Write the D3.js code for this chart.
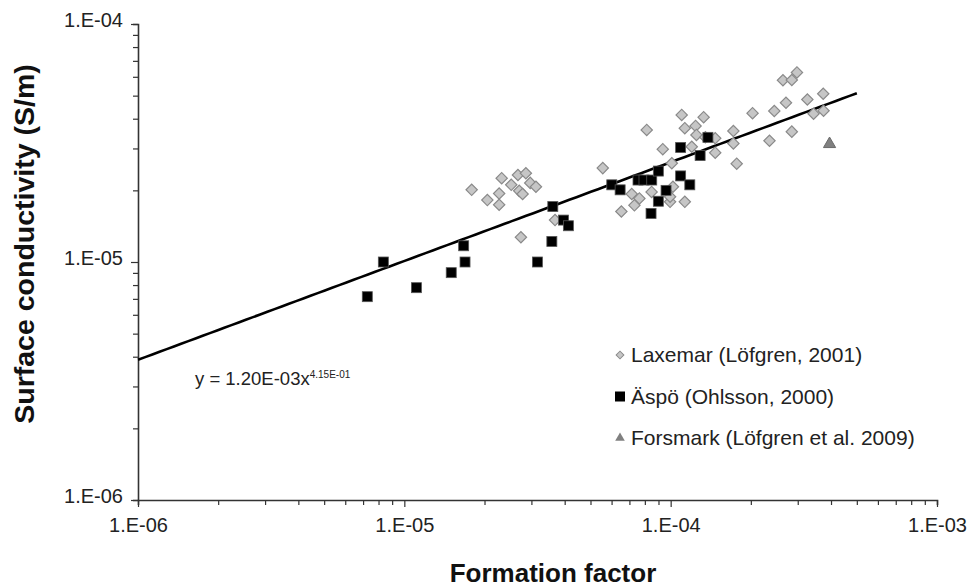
<!DOCTYPE html>
<html>
<head>
<meta charset="utf-8">
<script src="https://cdn.jsdelivr.net/npm/d3@7"></script>
<style>
  body { margin: 0; background: #fff; }
  svg text { font-family: 'Liberation Sans', Arial, sans-serif; }
  .axis path, .axis line { stroke: #333; }
  .axis text { font-size: 20px; fill: #222; }
</style>
</head>
<body>
<div id="chart"></div>
<script>
// Laxemar (Löfgren, 2001): [formation factor, surface conductivity S/m]
const laxemar = [
  [1.79e-5, 2.01e-5], [2.05e-5, 1.82e-5], [2.27e-5, 1.94e-5], [2.27e-5, 1.74e-5],
  [2.32e-5, 2.25e-5], [2.52e-5, 2.11e-5], [2.67e-5, 2.32e-5], [2.86e-5, 2.36e-5],
  [2.70e-5, 1.99e-5], [2.78e-5, 1.93e-5], [2.97e-5, 2.15e-5], [3.12e-5, 2.07e-5],
  [2.74e-5, 1.27e-5], [3.68e-5, 1.50e-5], [5.56e-5, 2.48e-5], [8.13e-5, 3.59e-5],
  [1.10e-4, 4.15e-5], [1.33e-4, 4.06e-5], [1.13e-4, 3.65e-5], [1.24e-4, 3.73e-5],
  [1.25e-4, 3.42e-5], [1.35e-4, 3.34e-5], [1.47e-4, 3.31e-5], [1.72e-4, 3.55e-5],
  [1.72e-4, 3.15e-5], [9.34e-5, 2.98e-5], [1.20e-4, 3.05e-5], [1.47e-4, 2.88e-5],
  [1.01e-4, 2.60e-5], [1.77e-4, 2.59e-5], [2.03e-4, 4.22e-5], [2.45e-4, 4.31e-5],
  [2.71e-4, 4.67e-5], [2.35e-4, 3.23e-5], [2.85e-4, 3.53e-5], [2.64e-4, 5.80e-5],
  [2.85e-4, 5.82e-5], [2.98e-4, 6.26e-5], [3.26e-4, 4.82e-5], [3.74e-4, 5.09e-5],
  [3.44e-4, 4.20e-5], [3.75e-4, 4.32e-5], [7.14e-5, 1.93e-5], [7.63e-5, 1.85e-5],
  [7.31e-5, 1.73e-5], [6.53e-5, 1.63e-5], [8.48e-5, 1.97e-5], [9.95e-5, 1.79e-5],
  [1.02e-4, 2.07e-5], [1.13e-4, 1.79e-5], [9.95e-5, 1.88e-5]
]

// Äspö (Ohlsson, 2000)
const aspo = [
  [7.26e-6, 7.15e-6], [8.34e-6, 1.00e-5], [1.11e-5, 7.80e-6], [1.50e-5, 9.02e-6],
  [1.67e-5, 1.17e-5], [1.69e-5, 1.00e-5], [3.16e-5, 1.00e-5], [3.58e-5, 1.22e-5],
  [3.61e-5, 1.71e-5], [3.96e-5, 1.50e-5], [4.13e-5, 1.42e-5], [6.01e-5, 2.11e-5],
  [6.46e-5, 2.01e-5], [7.54e-5, 2.21e-5], [7.94e-5, 2.21e-5], [8.49e-5, 2.21e-5],
  [8.99e-5, 2.41e-5], [1.09e-4, 3.03e-5], [1.29e-4, 2.80e-5], [1.38e-4, 3.34e-5],
  [1.09e-4, 2.30e-5], [1.18e-4, 2.11e-5], [9.61e-5, 2.00e-5], [8.99e-5, 1.80e-5],
  [8.44e-5, 1.60e-5]
]

// Forsmark (Löfgren et al. 2009)
const forsmark = [[3.95e-4, 3.13e-5]]

// power-law fit y = a * x^b and the x span it is drawn over
const fitA = 1.20e-3
const fitB = 0.415
const fitRange = [1e-6, 5e-4]

const xDecades = [1e-6, 1e-5, 1e-4, 1e-3]
const yDecades = [1e-6, 1e-5, 1e-4]

const legendLabels = [
  'Laxemar (Löfgren, 2001)',
  'Äspö (Ohlsson, 2000)',
  'Forsmark (Löfgren et al. 2009)'
]

var margin = { top: 24, left: 138, right: 43, bottom: 88 }
var width = 980 - margin.left - margin.right
var height = 588 - margin.top - margin.bottom

var svg = d3
  .select('#chart')
  .append('svg')
  .attr('width', width + margin.left + margin.right)
  .attr('height', height + margin.top + margin.bottom)
  .append('g')
  .attr('transform', `translate(${margin.left},${margin.top})`)

let xPositionScale = d3.scaleLog().domain([1e-6, 1e-3]).range([0, width])
let yPositionScale = d3.scaleLog().domain([1e-6, 1e-4]).range([height, 0])

// minor ticks 1..9 in each decade
function decadeTicks(decades) {
  let ticks = []
  decades.forEach((d, i) => {
    if (i === decades.length - 1) {
      ticks.push(d)
      return
    }
    for (let k = 1; k < 10; k++) ticks.push(d * k)
  })
  return ticks
}

function isMajor(v) {
  let l = Math.log10(v)
  return Math.abs(l - Math.round(l)) < 1e-9
}

function fmt(v) {
  let e = Math.round(Math.log10(v))
  return '1.E-' + String(-e).padStart(2, '0')
}

/* Axes */
var xAxis = d3
  .axisBottom(xPositionScale)
  .tickValues(decadeTicks(xDecades))
  .tickSizeOuter(0)
  .tickSize(5)
  .tickPadding(13)
  .tickFormat(d => (isMajor(d) ? fmt(d) : ''))

svg
  .append('g')
  .attr('class', 'axis x-axis')
  .attr('transform', 'translate(0,' + height + ')')
  .call(xAxis)
  .call(g => g.select('.domain').attr('stroke-width', 1.6))
  .call(g => g.selectAll('.tick line').attr('y2', d => (isMajor(d) ? 7 : 5)).attr('stroke-width', 1.2))

var yAxis = d3
  .axisLeft(yPositionScale)
  .tickValues(decadeTicks(yDecades))
  .tickSizeOuter(0)
  .tickSize(5)
  .tickPadding(10)
  .tickFormat(d => (isMajor(d) ? fmt(d) : ''))

svg
  .append('g')
  .attr('class', 'axis y-axis')
  .call(yAxis)
  .call(g => g.select('.domain').attr('stroke-width', 1.6))
  .call(g => g.selectAll('.tick line').attr('x2', d => (isMajor(d) ? -7 : -5)).attr('stroke-width', 1.2))
  .call(g => g.selectAll('.tick text').attr('dy', '0.1em'))

/* Fit line */
let fitPts = d3.range(0, 101).map(i => {
  let lx = Math.log10(fitRange[0]) + (Math.log10(fitRange[1]) - Math.log10(fitRange[0])) * i / 100
  let x = Math.pow(10, lx)
  return [x, fitA * Math.pow(x, fitB)]
})

svg
  .append('path')
  .datum(fitPts)
  .attr('fill', 'none')
  .attr('stroke', '#000')
  .attr('stroke-width', 2.6)
  .attr('d', d3.line().x(d => xPositionScale(d[0])).y(d => yPositionScale(d[1])))

/* Points */
let diamond = d3.symbol().type(d3.symbolSquare).size(64)

svg
  .selectAll('.lax')
  .data(laxemar)
  .enter()
  .append('path')
  .attr('class', 'lax')
  .attr('d', diamond)
  .attr('transform', d => `translate(${xPositionScale(d[0])},${yPositionScale(d[1])}) rotate(45)`)
  .attr('fill', '#c6c6c6')
  .attr('stroke', '#8a8a8a')
  .attr('stroke-width', 1.2)

svg
  .selectAll('.aspo')
  .data(aspo)
  .enter()
  .append('rect')
  .attr('class', 'aspo')
  .attr('x', d => xPositionScale(d[0]) - 5)
  .attr('y', d => yPositionScale(d[1]) - 5)
  .attr('width', 10)
  .attr('height', 10)
  .attr('fill', '#000')
  .attr('stroke', '#555')
  .attr('stroke-width', 0.8)

svg
  .selectAll('.fors')
  .data(forsmark)
  .enter()
  .append('path')
  .attr('class', 'fors')
  .attr('d', d3.symbol().type(d3.symbolTriangle).size(64))
  .attr('transform', d => `translate(${xPositionScale(d[0])},${yPositionScale(d[1])})`)
  .attr('fill', '#808080')
  .attr('stroke', '#6a6a6a')

/* Equation */
let eq = svg
  .append('text')
  .attr('x', 195 - margin.left)
  .attr('y', 385 - margin.top)
  .attr('font-size', 18.5)
  .attr('fill', '#222')
eq.append('tspan').text('y = 1.20E-03x')
eq.append('tspan').attr('font-size', 10).attr('dy', -7).text('4.15E-01')

/* Legend */
let legend = svg
  .append('g')
  .attr('transform', `translate(${620 - margin.left},${355 - margin.top})`)

legendLabels.forEach((label, i) => {
  let g = legend.append('g').attr('transform', `translate(0,${i * 41.5})`)
  if (i === 0) {
    g.append('path')
      .attr('d', d3.symbol().type(d3.symbolSquare).size(30))
      .attr('transform', 'rotate(45)')
      .attr('fill', '#c6c6c6')
      .attr('stroke', '#8a8a8a')
  } else if (i === 1) {
    g.append('rect').attr('x', -5).attr('y', -5).attr('width', 10).attr('height', 10).attr('fill', '#000')
  } else {
    g.append('path')
      .attr('d', d3.symbol().type(d3.symbolTriangle).size(40))
      .attr('fill', '#808080')
  }
  g.append('text')
    .attr('x', 11)
    .attr('y', 7)
    .attr('font-size', 21)
    .attr('fill', '#222')
    .text(label)
})

/* Axis titles */
svg
  .append('text')
  .attr('x', 553 - margin.left)
  .attr('y', 582 - margin.top)
  .attr('text-anchor', 'middle')
  .attr('font-size', 26)
  .attr('font-weight', 'bold')
  .attr('fill', '#111')
  .text('Formation factor')

svg
  .append('text')
  .attr('transform', `translate(${34 - margin.left},${244 - margin.top}) rotate(-90)`)
  .attr('text-anchor', 'middle')
  .attr('font-size', 28.5)
  .attr('font-weight', 'bold')
  .attr('fill', '#111')
  .text('Surface conductivity (S/m)')
</script>
</body>
</html>
